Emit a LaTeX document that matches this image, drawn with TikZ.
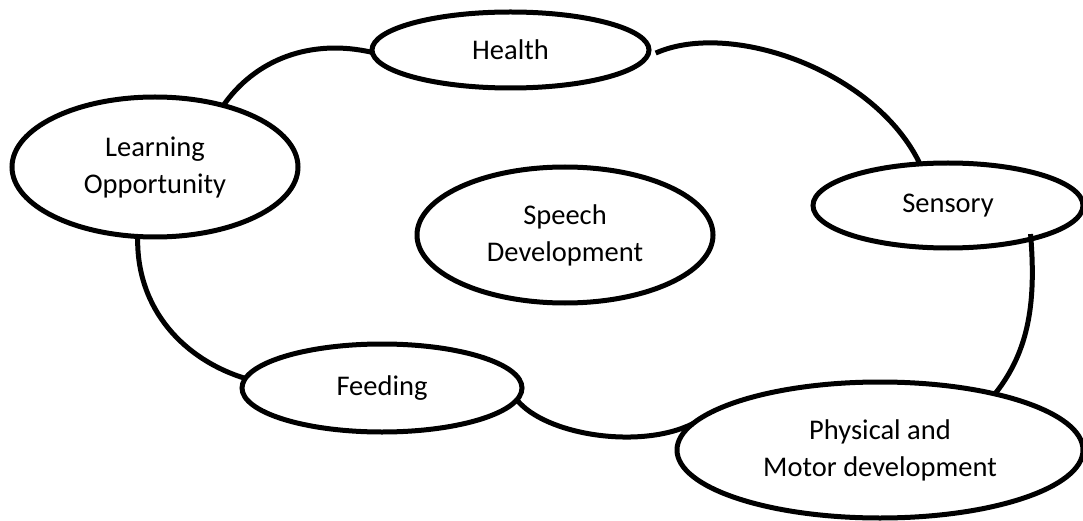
\documentclass[tikz,border=0pt]{standalone}
\usepackage{fontspec}
\setmainfont{Carlito}
\usetikzlibrary{shapes.geometric}

\tikzset{
  topic/.style={ellipse, draw=black, line width=5pt, fill=white,
    inner sep=0pt, outer sep=0pt, align=center,
    font=\fontsize{28.5}{37}\selectfont},
  link/.style={draw=black, line width=5pt}
}

\begin{document}
\begin{tikzpicture}[x=1pt, y=-1pt]
  \useasboundingbox (0,0) rectangle (1083,521);

  % topics arranged around the ring
  \node[topic, minimum width=277pt, minimum height=76pt]  (hea) at (510.5,50)  {Health};
  \node[topic, minimum width=286pt, minimum height=140pt] (lo)  at (155,167)   {Learning\\Opportunity};
  \node[topic, minimum width=296pt, minimum height=136pt] (spe) at (565,235)   {Speech\\Development};
  \node[topic, minimum width=270pt, minimum height=85pt]  (sen) at (948,205.5) {Sensory};
  \node[topic, minimum width=280pt, minimum height=88pt]  (fee) at (382,388)   {Feeding};
  \node[topic, minimum width=406pt, minimum height=136pt] (phy) at (880,450)   {Physical and\\Motor development};

  % curved links joining neighbouring topics
  \draw[link] (lo.42) .. controls (255,60) and (310,38) .. (hea.181);
  \draw[link, shorten <=10pt] (hea.-3) .. controls (730,20) and (875,70) .. (sen.124);
  \draw[link, shorten <=-5pt] (sen.-22) .. controls (1036,300) and (1030,350) .. (phy.26);
  \draw[link] (fee.-5) .. controls (545,435) and (640,450) .. (phy.172);
  \draw[link] (lo.256) .. controls (136,310) and (185,360) .. (fee.176);
\end{tikzpicture}
\end{document}
